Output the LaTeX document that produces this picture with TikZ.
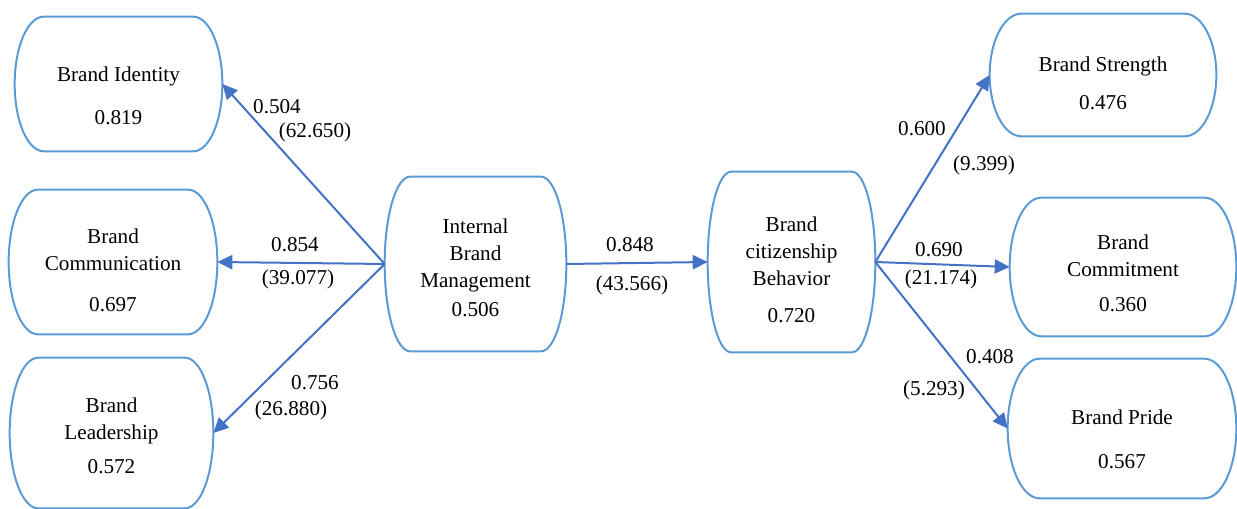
\documentclass[tikz,border=0pt]{standalone}
\usepackage{fontspec}
\setmainfont{Liberation Serif}
\usetikzlibrary{arrows.meta, calc}

\definecolor{boxblue}{HTML}{5B9BD5}
\definecolor{arrowblue}{HTML}{4472C4}

\tikzset{
  every node/.style={font=\fontsize{12.7}{16.2}\selectfont},
  every label/.style={align=center, inner sep=0pt},
  construct/.style={inner sep=0pt},
  outline/.style={boxblue, line width=1.2pt},
  path/.style={arrowblue, line width=1.2pt, -{Triangle[length=9pt, width=8.5pt]}},
}

\begin{document}
\begin{tikzpicture}[x=0.6pt, y=0.6pt]
\useasboundingbox (0,0) rectangle (1237,509);
% left side constructs
\node (bi) [construct, minimum width=124.2pt, minimum height=80.4pt, label={[yshift=-7.2pt]center:{Brand Identity\\[9.6pt]0.819}}] at (118.5,425) {};
\node (bc) [construct, minimum width=124.8pt, minimum height=86.4pt, label={[yshift=-5pt]center:{Brand\\Communication\\[8.4pt]0.697}}] at (113,247) {};
\node (bl) [construct, minimum width=121.8pt, minimum height=90pt, label={[yshift=-1.8pt]center:{Brand\\Leadership\\[4.2pt]0.572}}] at (111.5,76) {};
% middle
\node (ibm) [construct, minimum width=108.6pt, minimum height=104.4pt, label={[yshift=-2.4pt]center:{Internal\\Brand\\Management\\[1.2pt]0.506}}] at (475.5,245) {};
\node (bcb) [construct, minimum width=100.2pt, minimum height=108pt, label={[yshift=-4.5pt]center:{Brand\\citizenship\\Behavior\\[6pt]0.720}}] at (791.5,247) {};
% right side constructs
\node (bs) [construct, minimum width=135.6pt, minimum height=73.2pt, label={[yshift=-5.1pt]center:{Brand Strength\\[6.6pt]0.476}}] at (1103,434) {};
\node (bcm) [construct, minimum width=135.6pt, minimum height=82.8pt, label={[yshift=-3.9pt]center:{Brand\\Commitment\\[4.8pt]0.360}}] at (1123,242) {};
\node (bp) [construct, minimum width=136.8pt, minimum height=83.4pt, label={[yshift=-6.6pt]center:{Brand Pride\\[10.2pt]0.567}}] at (1122,80.5) {};

% box outlines, straight top and bottom, elliptic sides
\foreach \b in {bi,bc,bl,ibm,bcb,bs,bcm,bp}
  \draw[outline] let \p1=(\b.north west), \p2=(\b.south east),
      \n1={(\y1-\y2)/2}, \n2={0.14*(\x2-\x1)} in
    (\x1+\n2,\y1) -- (\x2-\n2,\y1)
    arc[start angle=90, end angle=-90, x radius=\n2, y radius=\n1]
    -- (\x1+\n2,\y2)
    arc[start angle=270, end angle=90, x radius=\n2, y radius=\n1] -- cycle;

% paths
\draw[path] (ibm.west) -- (bi.east);
\draw[path] (ibm.west) -- (bc.east);
\draw[path] (ibm.west) -- (bl.east);
\draw[path] (ibm.east) -- (bcb.west);
\draw[path] (bcb.east) -- (bs.west);
\draw[path] (bcb.east) -- (bcm.west);
\draw[path] (bcb.east) -- (bp.west);

%Text
\node (c1) at (277,402) {0.504};
\node (t1) at (315,377) {(62.650)};
\node (c2) at (295,264) {0.854};
\node (t2) at (298,230) {(39.077)};
\node (c3) at (315,126) {0.756};
\node (t3) at (291,99) {(26.880)};
\node (c4) at (630,264) {0.848};
\node (t4) at (632,224) {(43.566)};
\node (c5) at (922,380) {0.600};
\node (t5) at (984,344) {(9.399)};
\node (c6) at (939,259) {0.690};
\node (t6) at (941,230) {(21.174)};
\node (c7) at (990,152) {0.408};
\node (t7) at (934,119) {(5.293)};
\end{tikzpicture}
\end{document}
